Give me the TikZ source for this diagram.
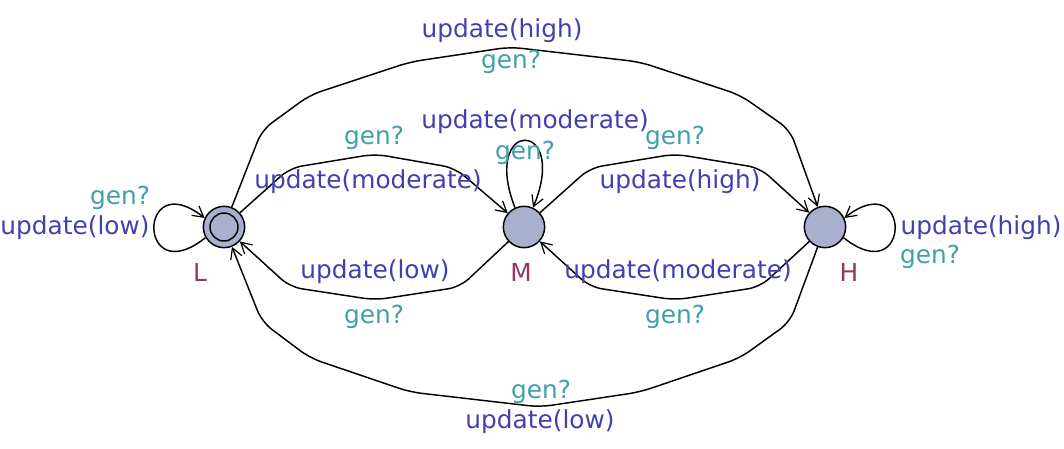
\documentclass[tikz,border=0pt]{standalone}
\usepackage{fontspec}
\setmainfont{DejaVu Sans}
\usetikzlibrary{arrows.meta}
\definecolor{upd}{RGB}{64,64,176}
\definecolor{syn}{RGB}{64,160,168}
\definecolor{lname}{RGB}{150,50,100}
\definecolor{locfill}{RGB}{168,176,206}
\tikzset{
  loc/.style={circle,draw,line width=1.1pt,fill=locfill,minimum size=31pt,inner sep=0pt},
  edge/.style={draw,line width=1.1pt,rounded corners=9pt,-{Straight Barb[length=8pt,width=9pt,line width=0.9pt]}},
  ulab/.style={text=upd,font=\fontsize{18.6}{20}\selectfont,inner sep=0pt},
  glab/.style={text=syn,font=\fontsize{18.6}{20}\selectfont,inner sep=0pt},
  nlab/.style={text=lname,font=\fontsize{18.6}{20}\selectfont,inner sep=0pt}
}
\begin{document}
\begin{tikzpicture}[x=0.75pt,y=-0.75pt]
\useasboundingbox (0,0) rectangle (1064,449);
\node[loc] (L) at (224,227) {};
\draw[line width=1.1pt] (L.center) circle[radius=10.5pt];
\node[loc] (M) at (524,227) {};
\node[loc] (H) at (825,227) {};
\node[nlab] (Ln) at (200,272) {L};
\node[nlab] (Mn) at (521,272) {M};
\node[nlab] (Hn) at (849,272) {H};

% L -> H top
\draw[edge] (L) -- (262,130) -- (310,95) -- (410,62) -- (510,47) -- (640,62) -- (740,95) -- (790,130) -- (H);
\node[ulab] (t1) at (502,31) {update(high)};
\node[glab] (t2) at (511,62) {gen?};

% L -> M
\draw[edge] (L) -- (290,168) -- (375,154) -- (455,168) -- (M);
\node[glab] (t3) at (374,138) {gen?};
\node[ulab] (t4) at (368,182) {update(moderate)};

% M self loop
\draw[edge] (M.115) .. controls (480,118) and (570,118) .. (M.65);
\node[ulab] (t5) at (535,122) {update(moderate)};
\node[glab] (t6) at (525,153) {gen?};

% M -> H
\draw[edge] (M) -- (590,168) -- (675,154) -- (760,168) -- (H);
\node[glab] (t7) at (675,138) {gen?};
\node[ulab] (t8) at (680,182) {update(high)};

% H self loop
\draw[edge] (H.-30) .. controls (912,292) and (912,165) .. (H.25);
\node[ulab] (t9) at (981,228) {update(high)};
\node[glab] (t10) at (930,257) {gen?};

% M -> L
\draw[edge] (M) -- (460,287) -- (375,300) -- (290,287) -- (L);
\node[ulab] (t11) at (375,272) {update(low)};
\node[glab] (t12) at (374,317) {gen?};

% H -> M
\draw[edge] (H) -- (760,287) -- (675,300) -- (590,287) -- (M);
\node[ulab] (t13) at (678,272) {update(moderate)};
\node[glab] (t14) at (675,317) {gen?};

% H -> L bottom
\draw[edge] (H) -- (790,322) -- (740,358) -- (640,392) -- (540,407) -- (410,392) -- (310,358) -- (262,322) -- (L);
\node[glab] (t15) at (541,392) {gen?};
\node[ulab] (t16) at (540,422) {update(low)};

% L self loop
\draw[edge] (L.210) .. controls (137,292) and (137,165) .. (L.155);
\node[glab] (t17) at (120,198) {gen?};
\node[ulab] (t18) at (75,228) {update(low)};
\end{tikzpicture}
\end{document}
